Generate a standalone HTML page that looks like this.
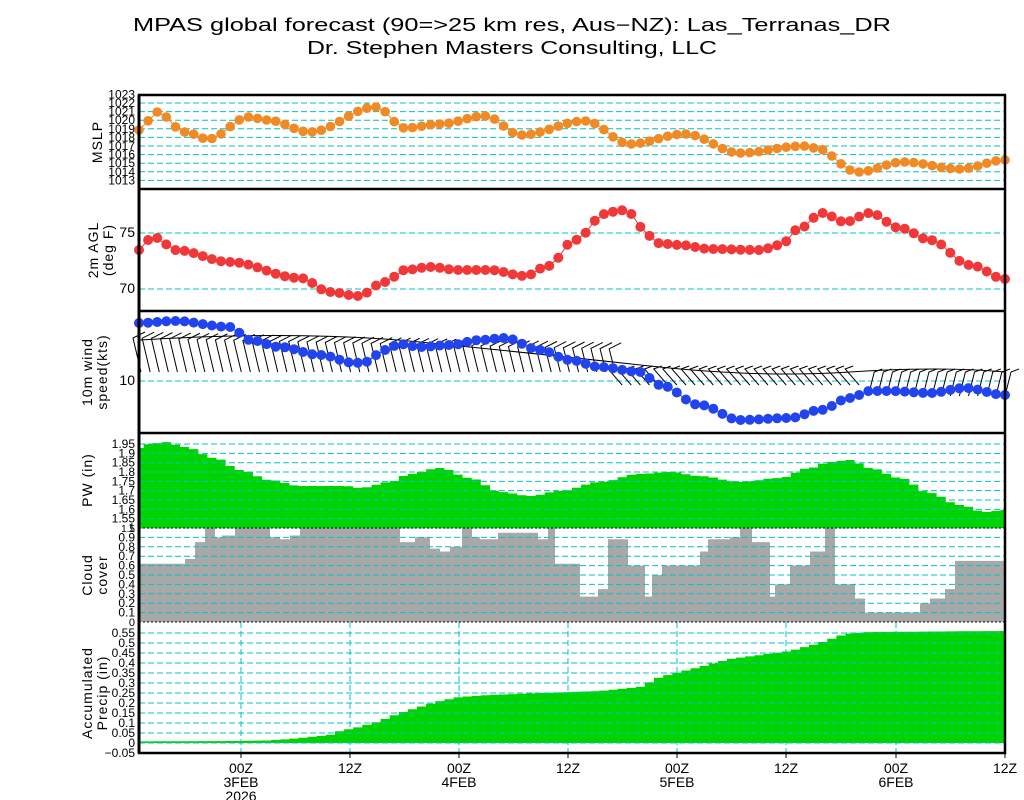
<!DOCTYPE html>
<html><head><meta charset="utf-8"><style>
body{margin:0;background:#fff}
svg{display:block}
text{font-family:"Liberation Sans",sans-serif;fill:#000}
</style></head><body>
<svg id="s" width="1024" height="800" xmlns="http://www.w3.org/2000/svg"></svg>
<script>
const S=document.getElementById('s');let h='';
const L=139,R=1005,N=96,dx=(R-L)/(N-1);
const X=i=>L+i*dx;
function interp(k,x){if(x<=k[0][0])return k[0][1];for(let j=1;j<k.length;j++){if(x<=k[j][0]){const a=k[j-1],b=k[j];const t=(x-a[0])/(b[0]-a[0]);const c=(1-Math.cos(Math.PI*t))/2;return a[1]+(b[1]-a[1])*c;}}return k[k.length-1][1];}
function ser(k){const a=[];for(let i=0;i<N;i++)a.push([X(i),interp(k,X(i))]);return a;}
function hline(y){h+=`<line x1="${L}" x2="${R}" y1="${y}" y2="${y}" stroke="#00c4c4" stroke-width="1" stroke-dasharray="6,3"/>`;}
function lab(y,t,fs){h+=`<text x="${L-4}" y="${y+4}" font-size="${fs||12}" text-anchor="end">${t}</text>`;}
function ylab(cx,cy,lines){lines.forEach((t,i)=>{h+=`<text transform="translate(${cx+i*15},${cy}) rotate(-90)" font-size="14" text-anchor="middle" letter-spacing="1">${t}</text>`;});}
function dots(a,col,r){h+=`<polyline fill="none" stroke="${col}" stroke-width="1" points="${a.map(p=>p[0].toFixed(1)+','+p[1].toFixed(1)).join(' ')}"/>`;a.forEach(p=>{h+=`<circle cx="${p[0].toFixed(1)}" cy="${p[1].toFixed(1)}" r="${r}" fill="${col}"/>`;});}
function step(a,base,col){let d=`M${L},${base}`;a.forEach((p,i)=>{const x0=i==0?L:p[0]-dx/2,x1=i==N-1?R:p[0]+dx/2;d+=`L${x0.toFixed(1)},${p[1].toFixed(1)}L${x1.toFixed(1)},${p[1].toFixed(1)}`});d+=`L${R},${base}Z`;h+=`<path d="${d}" fill="${col}"/>`;}
// title
h+=`<text x="512" y="31" font-size="18" text-anchor="middle" textLength="758" lengthAdjust="spacingAndGlyphs">MPAS global forecast (90=&gt;25 km res, Aus−NZ): Las_Terranas_DR</text>`;
h+=`<text x="512" y="54" font-size="18" text-anchor="middle" textLength="410" lengthAdjust="spacingAndGlyphs">Dr. Stephen Masters Consulting, LLC</text>`;
// MSLP
for(let p=1013;p<=1023;p++){const y=189-(p-1012)*8.6;hline(y);lab(y,p,12);}
dots(ser([[139,130],[157,112],[185,132],[208,139],[249,117],[267,120],[310,132],[376,107],[405,128],[440,124],[485,116],[521,135],[585,121],[630,144],[685,134],[740,153],[803,146],[815,148],[858,172],[903,162],[960,169],[1005,160]]),'#f08a24',4.8);
ylab(102,142,['MSLP']);
// Temp
[[233,'75'],[289,'70']].forEach(v=>{hline(v[0]);lab(v[0],v[1],14);});
dots(ser([[139,250],[148,240],[157,238],[175,250],[230,262],[300,278],[330,292],[358,296],[385,282],[405,270],[430,267],[458,270],[490,270],[525,276],[548,266],[575,240],[605,214],[620,210],[632,214],[645,232],[656,243],[680,245],[710,249],[760,250],[780,245],[800,228],[822,213],[845,222],[870,213],[900,228],[930,240],[970,265],[1005,279]]),'#f03838',5);
ylab(98,250,['2m AGL','(deg F)']);
// Wind
hline(381);lab(381,'10',14);
for(let i=0;i<N;i++){const x=X(i);const f=i/N;
 if(x<620){const bx=x+2,by=372,tx=x-6+f*4,ty=338+f*20;h+=`<path d="M${bx},${by}L${tx},${ty}L${tx+12},${ty-6}" fill="none" stroke="#000" stroke-width="1"/>`;}
 else{const by=x>860?396:385,tx=x-(x>860?-6:14),ty=by-(x>860?24:16);h+=`<path d="M${x},${by}L${tx},${ty}L${tx+8},${ty-3}" fill="none" stroke="#000" stroke-width="1"/>`;}}
h+=`<path d="M140,340 Q300,330 420,342 T650,366 T850,372 T1005,372" fill="none" stroke="#000" stroke-width="1"/>`;
dots(ser([[139,323],[175,321],[230,327],[250,340],[280,347],[320,355],[355,363],[365,362],[385,350],[400,344],[420,347],[450,345],[480,340],[505,338],[540,350],[570,360],[600,367],[640,372],[660,385],[700,405],[740,420],[790,418],[820,410],[850,398],[870,391],[890,391],[930,393],[965,388],[1005,395]]),'#2244ee',5);
ylab(92,372,['10m wind','speed(kts)']);
// PW
step(ser([[139,448],[150,444],[165,442],[185,447],[215,458],[240,470],[270,480],[300,486],[345,486],[360,488],[390,482],[410,474],[440,468],[470,478],[500,492],[530,496],[560,491],[600,482],[640,474],[670,472],[700,476],[740,482],[780,478],[810,468],[830,462],[850,460],[870,468],[900,478],[930,493],[960,505],[985,512],[1005,510]]),528,'#00d400');
['1.55','1.6','1.65','1.7','1.75','1.8','1.85','1.9','1.95'].forEach((t,i)=>{const y=528-(i+1)*9.33;hline(y);lab(y,t,12);});
lab(528,'1.5',10);
ylab(92,480,['PW  (in)']);
// Cloud
const cl=[[185,.62],[195,.67],[205,.85],[215,1],[222,.9],[235,.92],[270,1],[280,.9],[290,.88],[300,.92],[400,1],[415,.85],[430,.9],[440,.78],[450,.75],[462,.8],[472,1],[480,.9],[498,.88],[538,.95],[548,.88],[555,1],[580,.62],[598,.27],[608,.35],[628,.88],[645,.6],[652,.27],[662,.5],[700,.6],[708,.75],[730,.88],[740,.9],[752,1],[770,.85],[775,.27],[790,.4],[810,.6],[825,.75],[835,1],[855,.4],[865,.25],[920,.1],[930,.2],[945,.25],[955,.35],[1006,.65]];
{let d=`M${L},622`,x0=L;cl.forEach(c=>{const y=622-c[1]*94;d+=`L${x0},${y}L${c[0]},${y}`;x0=c[0];});d+=`L${R},622Z`;h+=`<path d="${d}" fill="#a8a8a8"/>`;}
for(let i=1;i<=10;i++){const y=622-i*9.4;hline(y);lab(y,i==10?'1':'0.'+i,12);}
lab(622,'0',11);
ylab(92,575,['Cloud','cover']);
// Precip
for(let x of [241,350,459,568,677,786,896]){h+=`<line x1="${x}" x2="${x}" y1="622" y2="753" stroke="#00c4c4" stroke-dasharray="6,3"/>`;}
{const pk=[[139,.008],[240,.01],[270,.013],[290,.02],[330,.04],[340,.06],[360,.08],[380,.11],[400,.15],[420,.18],[440,.21],[460,.23],[490,.24],[540,.25],[600,.26],[640,.28],[660,.33],[700,.38],[730,.42],[760,.44],[790,.46],[820,.5],[845,.545],[870,.555],[1005,.56]];
const a=[];for(let i=0;i<N;i++){const x=X(i);let v=pk[0][1];for(let j=1;j<pk.length;j++){if(x>=pk[j-1][0]&&x<=pk[j][0]){v=pk[j-1][1]+(pk[j][1]-pk[j-1][1])*(x-pk[j-1][0])/(pk[j][0]-pk[j-1][0]);}}if(x>=1005)v=.56;a.push([x,743-v*200]);}
step(a,743,'#00d400');}
const pl=['−0.05','0','0.05','0.1','0.15','0.2','0.25','0.3','0.35','0.4','0.45','0.5','0.55'];
pl.forEach((t,i)=>{const y=753-i*10;hline(y);lab(y,t,12);});
ylab(92,693,['Accumulated','Precip  (in)']);
h+=`<rect x="${L}" y="95" width="${R-L}" height="658" fill="none" stroke="#000" stroke-width="2.5"/>`;
[189,311,433].forEach(y=>{h+=`<line x1="${L}" x2="${R}" y1="${y}" y2="${y}" stroke="#000" stroke-width="2.5"/>`;});
[528,622].forEach(y=>{h+=`<line x1="${L}" x2="${R}" y1="${y}" y2="${y}" stroke="#000" stroke-width="1" stroke-dasharray="2,2"/>`;});
h+=`<line x1="${L}" x2="${L}" y1="95" y2="753" stroke="#000" stroke-width="3"/>`;
const tl=[['00Z','3FEB','2026'],['12Z'],['00Z','4FEB'],['12Z'],['00Z','5FEB'],['12Z'],['00Z','6FEB'],['12Z']];
[241,350,459,568,677,786,896,1005].forEach((x,i)=>{h+=`<line x1="${x}" x2="${x}" y1="753" y2="758" stroke="#000"/>`;tl[i].forEach((t,j)=>{h+=`<text x="${x}" y="${773+j*14}" font-size="14" text-anchor="middle">${t}</text>`;});});
S.innerHTML=h;
</script>
</body></html>
